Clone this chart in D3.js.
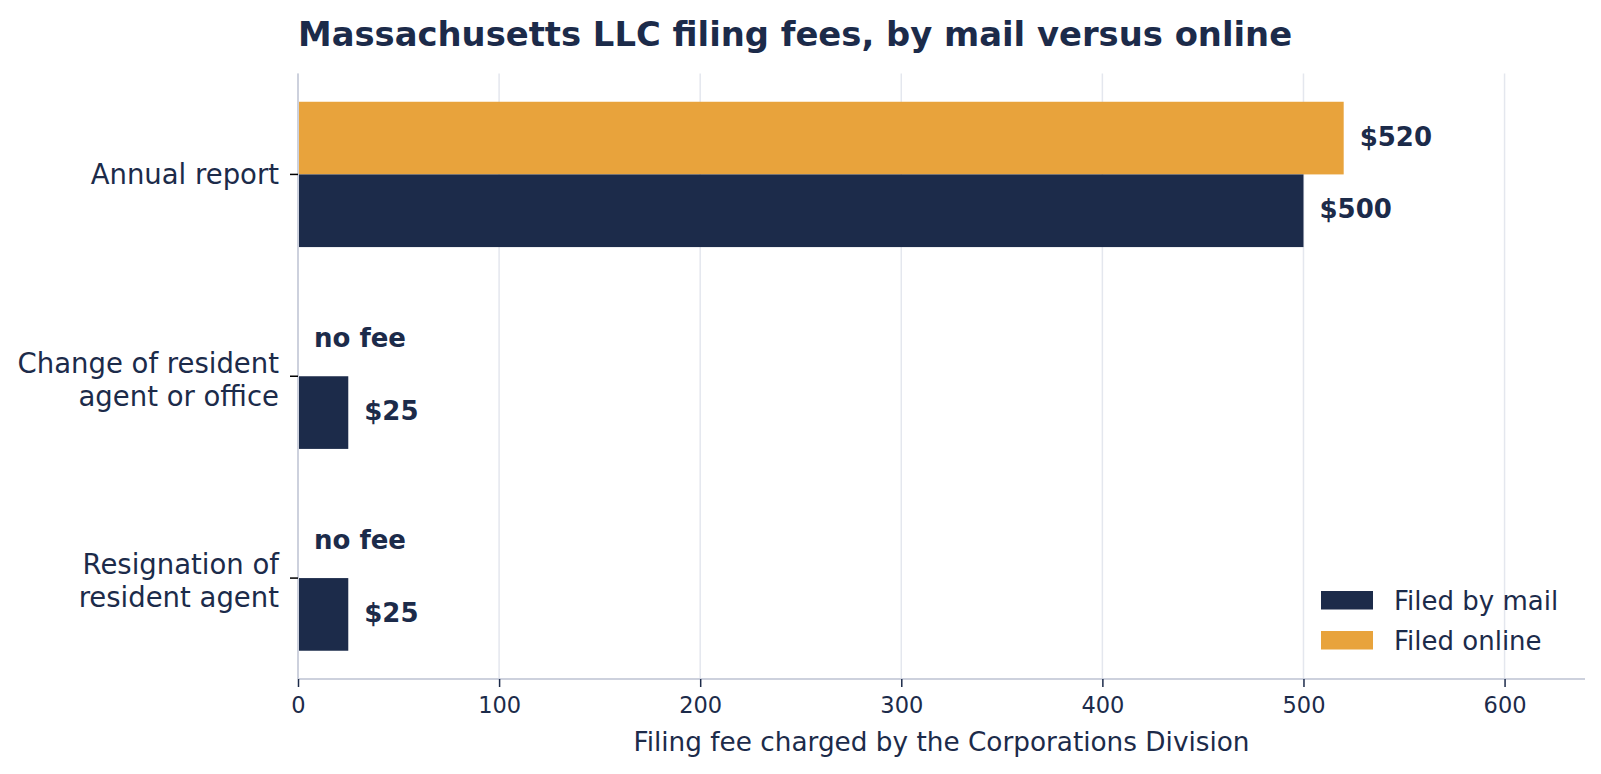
<!DOCTYPE html>
<html>
<head>
<meta charset="utf-8">
<script src="https://cdn.jsdelivr.net/npm/d3@7"></script>
<style>
  body { margin: 0; background: #fff; }
  svg text { font-family: "DejaVu Sans", sans-serif; fill: #1c2b4a; }
</style>
</head>
<body>
<svg id="chart" width="1601" height="774"></svg>
<script>
// data
let categories = [['Annual report'], ['Change of resident', 'agent or office'], ['Resignation of', 'resident agent']]
let mailFees = [500, 25, 25]
let onlineFees = [520, 0, 0]
let xTicks = [0, 100, 200, 300, 400, 500, 600]
let seriesNames = ['Filed by mail', 'Filed online']

let navy = '#1c2b4a'
let orange = '#e8a33c'

let svg = d3.select('#chart')
let margin = {top: 73.5, right: 16, bottom: 95, left: 298}
let width = 1601 - margin.left - margin.right
let height = 774 - margin.top - margin.bottom

let x = d3.scaleLinear().domain([0, 640]).range([0, width])
let y = d3.scaleLinear().domain([-0.5, 2.5]).range([0, height])
let barH = y(0.36) - y(0)

let g = svg.append('g').attr('transform', `translate(${margin.left},${margin.top})`)

// grid
g.selectAll('.grid').data(xTicks).enter().append('line')
  .attr('x1', d => x(d)).attr('x2', d => x(d))
  .attr('y1', 0).attr('y2', height)
  .attr('stroke', '#e4e7ee').attr('stroke-width', 1.5)

// bars
g.selectAll('.online').data(onlineFees).enter().append('rect')
  .attr('x', 0).attr('y', (d, i) => y(i) - barH)
  .attr('width', d => x(d)).attr('height', barH)
  .attr('fill', orange)
g.selectAll('.mail').data(mailFees).enter().append('rect')
  .attr('x', 0).attr('y', (d, i) => y(i))
  .attr('width', d => x(d)).attr('height', barH)
  .attr('fill', navy)

// value labels
g.selectAll('.onlineLbl').data(onlineFees).enter().append('text')
  .attr('x', d => x(d) + 16).attr('y', (d, i) => y(i) - barH / 2)
  .attr('dy', '0.29em')
  .style('font-size', '26px').style('font-weight', 'bold')
  .text(d => d === 0 ? 'no fee' : '$' + d)
g.selectAll('.mailLbl').data(mailFees).enter().append('text')
  .attr('x', d => x(d) + 16).attr('y', (d, i) => y(i) + barH / 2)
  .attr('dy', '0.29em')
  .style('font-size', '26px').style('font-weight', 'bold')
  .text(d => d === 0 ? 'no fee' : '$' + d)

// spines
g.append('line').attr('x1', 0).attr('x2', 0).attr('y1', 0).attr('y2', height)
  .attr('stroke', '#cdd1dd').attr('stroke-width', 2)
g.append('line').attr('x1', 0).attr('x2', width).attr('y1', height).attr('y2', height)
  .attr('stroke', '#cdd1dd').attr('stroke-width', 2)

// x axis
let xAxis = g.append('g').attr('transform', `translate(0,${height})`)
  .call(d3.axisBottom(x).tickValues(xTicks).tickSize(8).tickPadding(10))
xAxis.select('.domain').remove()
xAxis.selectAll('line').attr('stroke', navy).attr('stroke-width', 1.5)
xAxis.selectAll('text').style('font-size', '22.5px').attr('fill', navy)
  .style('font-family', '"DejaVu Sans", sans-serif')

g.append('text')
  .attr('x', width / 2).attr('y', height + 72)
  .attr('text-anchor', 'middle')
  .style('font-size', '26.3px')
  .text('Filing fee charged by the Corporations Division')

// y axis
let yAx = g.selectAll('.ytick').data(categories).enter().append('g')
  .attr('transform', (d, i) => `translate(0,${y(i)})`)
yAx.append('line').attr('x1', -8).attr('x2', 0).attr('stroke', '#000').attr('stroke-width', 1.5)
yAx.append('text')
  .attr('text-anchor', 'end')
  .style('font-size', '27.5px')
  .selectAll('tspan').data(d => d).enter().append('tspan')
  .attr('x', -19)
  .attr('y', (d, i, nodes) => (i - (nodes.length - 1) / 2) * 33 + (nodes.length > 1 ? 3 : 0))
  .attr('dy', '0.36em')
  .text(d => d)

// title
svg.append('text')
  .attr('x', margin.left).attr('y', 46)
  .style('font-size', '33.8px').style('font-weight', 'bold')
  .text('Massachusetts LLC filing fees, by mail versus online')

// legend
let legend = svg.append('g').attr('transform', 'translate(1321,591)')
let items = legend.selectAll('g').data(seriesNames).enter().append('g')
  .attr('transform', (d, i) => `translate(0,${i * 40})`)
items.append('rect').attr('width', 52).attr('height', 18.5)
  .attr('fill', (d, i) => i === 0 ? navy : orange)
items.append('text').attr('x', 73).attr('y', 9.25).attr('dy', '0.36em')
  .style('font-size', '26px')
  .text(d => d)
</script>
</body>
</html>
